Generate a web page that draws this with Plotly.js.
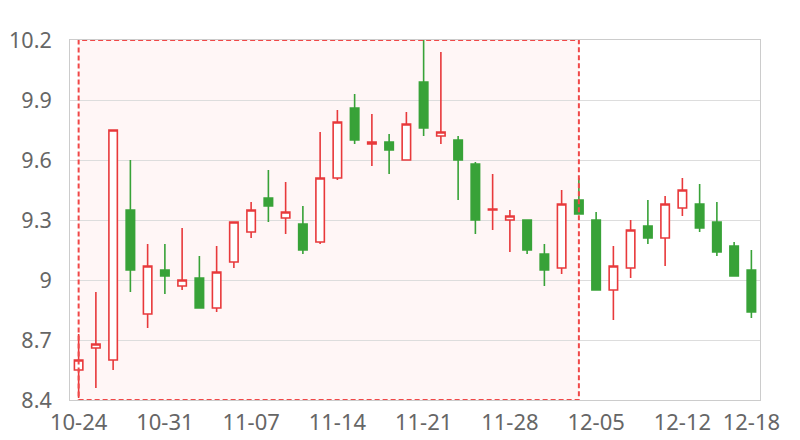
<!DOCTYPE html>
<html>
<head>
<meta charset="utf-8">
<script src="https://cdn.plot.ly/plotly-3.0.1.min.js"></script>
<style>
  html, body { margin: 0; padding: 0; background: #fff; }
  #chart { width: 800px; height: 440px; }
</style>
</head>
<body>
<div id="chart"></div>
<script>
const dates = ['10-24','10-25','10-26','10-27','10-30','10-31','11-01','11-02','11-03','11-06',
  '11-07','11-08','11-09','11-10','11-13','11-14','11-15','11-16','11-17','11-20',
  '11-21','11-22','11-23','11-24','11-27','11-28','11-29','11-30','12-01','12-04',
  '12-05','12-06','12-07','12-08','12-11','12-12','12-13','12-14','12-15','12-18'];
const openV  = [8.55,8.66,8.60,9.35,8.83,9.05,8.97,9.01,8.86,9.09,
  9.24,9.41,9.31,9.28,9.19,9.51,9.86,9.68,9.69,9.60,
  9.99,9.72,9.70,9.58,9.35,9.30,9.30,9.13,9.06,9.40,
  9.30,8.95,9.06,9.27,9.21,9.36,9.38,9.29,9.17,9.05];
const closeV = [8.60,8.68,9.75,9.05,9.07,9.02,9.00,8.86,9.04,9.29,
  9.35,9.37,9.34,9.15,9.51,9.79,9.70,9.69,9.65,9.78,
  9.76,9.74,9.60,9.30,9.355,9.32,9.15,9.05,9.38,9.33,
  8.95,9.07,9.25,9.21,9.38,9.45,9.26,9.14,9.02,8.84];
const lowV   = [8.41,8.46,8.55,8.94,8.76,8.93,8.95,8.86,8.84,9.06,
  9.21,9.29,9.23,9.13,9.18,9.50,9.68,9.57,9.53,9.60,
  9.72,9.68,9.40,9.23,9.25,9.14,9.13,8.97,9.03,9.33,
  8.95,8.80,9.01,9.18,9.07,9.32,9.24,9.12,9.02,8.81];
const highV  = [8.73,8.94,9.75,9.60,9.18,9.18,9.26,9.12,9.17,9.29,
  9.39,9.55,9.49,9.37,9.74,9.85,9.93,9.83,9.73,9.84,
  10.20,10.14,9.72,9.59,9.53,9.35,9.30,9.18,9.45,9.51,
  9.34,9.17,9.30,9.40,9.42,9.51,9.48,9.39,9.19,9.15];
const xTickLabels = ['10-24','10-31','11-07','11-14','11-21','11-28','12-05','12-12','12-18'];
const yTickVals = [8.4,8.7,9.0,9.3,9.6,9.9,10.2];
const yTickText = ['8.4','8.7','9','9.3','9.6','9.9','10.2'];
const areaStart = '10-24';
const areaEnd = '12-04';

const red = '#e8393b';
const green = '#38a238';

const trace = {
  type: 'candlestick',
  x: dates, open: openV, close: closeV, low: lowV, high: highV,
  increasing: { line: { color: red, width: 1.6 }, fillcolor: '#ffffff' },
  decreasing: { line: { color: green, width: 1.6 }, fillcolor: green },
  whiskerwidth: 0,
  hoverinfo: 'skip',
  showlegend: false
};

const xfont = { family: 'Noto Sans, sans-serif', size: 22, color: '#666' };
const yfont = { family: 'Noto Sans, sans-serif', size: 21.5, color: '#666' };

const layout = {
  width: 800, height: 440,
  margin: { l: 70, r: 40, t: 40, b: 40 },
  paper_bgcolor: '#fff', plot_bgcolor: '#fff',
  showlegend: false,
  xaxis: {
    type: 'category',
    categoryorder: 'array', categoryarray: dates,
    range: [-0.5, dates.length - 0.5],
    tickvals: xTickLabels, ticktext: xTickLabels,
    showgrid: false, zeroline: false,
    showline: true, linecolor: '#ccc', linewidth: 1, mirror: true,
    ticks: '', tickfont: xfont,
    ticklabelstandoff: 3,
    rangeslider: { visible: false },
    fixedrange: true
  },
  yaxis: {
    range: [8.4, 10.2],
    tickvals: yTickVals, ticktext: yTickText,
    showgrid: true, gridcolor: '#ddd', gridwidth: 1,
    zeroline: false,
    showline: true, linecolor: '#ccc', linewidth: 1, mirror: true,
    ticks: '', tickfont: yfont,
    ticklabelstandoff: 13,
    fixedrange: true
  },
  shapes: [
    { type: 'rect', xref: 'x', yref: 'y', x0: areaStart, x1: areaEnd, y0: 8.4, y1: 10.2,
      fillcolor: '#fff6f6', line: { width: 0 }, layer: 'below' },
    { type: 'rect', xref: 'x', yref: 'y', x0: areaStart, x1: areaEnd, y0: 8.4, y1: 10.2,
      fillcolor: 'rgba(0,0,0,0)', line: { color: '#f04848', width: 2, dash: '5px,3px' }, layer: 'above' }
  ]
};

Plotly.newPlot('chart', [trace], layout, { staticPlot: true, displayModeBar: false });
</script>
</body>
</html>
